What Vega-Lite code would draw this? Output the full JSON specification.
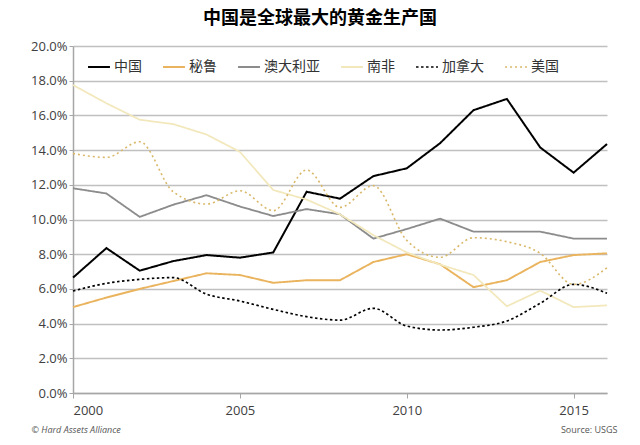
{
  "$schema": "https://vega.github.io/schema/vega-lite/v6.json",
  "width": 534,
  "height": 347,
  "autosize": {"type": "none"},
  "padding": {"left": 73, "top": 46, "right": 33, "bottom": 52},
  "background": "white",
  "config": {"view": {"stroke": null}},
  "title": {"text": "中国是全球最大的黄金生产国", "font": "Noto Sans CJK SC", "fontSize": 18, "fontWeight": "bold", "color": "#000000", "anchor": "middle", "dx": -20, "offset": 12},
  "datasets": {
    "gold": [
      {"year": 2000, "country": "中国", "share": 0.0665}, {"year": 2001, "country": "中国", "share": 0.0835}, {"year": 2002, "country": "中国", "share": 0.0705}, {"year": 2003, "country": "中国", "share": 0.076}, {"year": 2004, "country": "中国", "share": 0.0795}, {"year": 2005, "country": "中国", "share": 0.078}, {"year": 2006, "country": "中国", "share": 0.081}, {"year": 2007, "country": "中国", "share": 0.116}, {"year": 2008, "country": "中国", "share": 0.112}, {"year": 2009, "country": "中国", "share": 0.125}, {"year": 2010, "country": "中国", "share": 0.1295}, {"year": 2011, "country": "中国", "share": 0.144}, {"year": 2012, "country": "中国", "share": 0.163}, {"year": 2013, "country": "中国", "share": 0.1695}, {"year": 2014, "country": "中国", "share": 0.1415}, {"year": 2015, "country": "中国", "share": 0.127}, {"year": 2016, "country": "中国", "share": 0.1435},
      {"year": 2000, "country": "秘鲁", "share": 0.0495}, {"year": 2001, "country": "秘鲁", "share": 0.055}, {"year": 2002, "country": "秘鲁", "share": 0.06}, {"year": 2003, "country": "秘鲁", "share": 0.0645}, {"year": 2004, "country": "秘鲁", "share": 0.069}, {"year": 2005, "country": "秘鲁", "share": 0.068}, {"year": 2006, "country": "秘鲁", "share": 0.0635}, {"year": 2007, "country": "秘鲁", "share": 0.065}, {"year": 2008, "country": "秘鲁", "share": 0.065}, {"year": 2009, "country": "秘鲁", "share": 0.0755}, {"year": 2010, "country": "秘鲁", "share": 0.08}, {"year": 2011, "country": "秘鲁", "share": 0.0742}, {"year": 2012, "country": "秘鲁", "share": 0.061}, {"year": 2013, "country": "秘鲁", "share": 0.065}, {"year": 2014, "country": "秘鲁", "share": 0.0755}, {"year": 2015, "country": "秘鲁", "share": 0.0795}, {"year": 2016, "country": "秘鲁", "share": 0.0805},
      {"year": 2000, "country": "澳大利亚", "share": 0.118}, {"year": 2001, "country": "澳大利亚", "share": 0.115}, {"year": 2002, "country": "澳大利亚", "share": 0.1015}, {"year": 2003, "country": "澳大利亚", "share": 0.1085}, {"year": 2004, "country": "澳大利亚", "share": 0.114}, {"year": 2005, "country": "澳大利亚", "share": 0.1075}, {"year": 2006, "country": "澳大利亚", "share": 0.102}, {"year": 2007, "country": "澳大利亚", "share": 0.106}, {"year": 2008, "country": "澳大利亚", "share": 0.103}, {"year": 2009, "country": "澳大利亚", "share": 0.089}, {"year": 2010, "country": "澳大利亚", "share": 0.0945}, {"year": 2011, "country": "澳大利亚", "share": 0.1005}, {"year": 2012, "country": "澳大利亚", "share": 0.093}, {"year": 2013, "country": "澳大利亚", "share": 0.093}, {"year": 2014, "country": "澳大利亚", "share": 0.093}, {"year": 2015, "country": "澳大利亚", "share": 0.089}, {"year": 2016, "country": "澳大利亚", "share": 0.089},
      {"year": 2000, "country": "南非", "share": 0.1775}, {"year": 2001, "country": "南非", "share": 0.167}, {"year": 2002, "country": "南非", "share": 0.1575}, {"year": 2003, "country": "南非", "share": 0.155}, {"year": 2004, "country": "南非", "share": 0.149}, {"year": 2005, "country": "南非", "share": 0.139}, {"year": 2006, "country": "南非", "share": 0.117}, {"year": 2007, "country": "南非", "share": 0.1115}, {"year": 2008, "country": "南非", "share": 0.103}, {"year": 2009, "country": "南非", "share": 0.091}, {"year": 2010, "country": "南非", "share": 0.081}, {"year": 2011, "country": "南非", "share": 0.074}, {"year": 2012, "country": "南非", "share": 0.068}, {"year": 2013, "country": "南非", "share": 0.05}, {"year": 2014, "country": "南非", "share": 0.059}, {"year": 2015, "country": "南非", "share": 0.0495}, {"year": 2016, "country": "南非", "share": 0.0505},
      {"year": 2000, "country": "加拿大", "share": 0.0588}, {"year": 2001, "country": "加拿大", "share": 0.0632}, {"year": 2002, "country": "加拿大", "share": 0.0655}, {"year": 2003, "country": "加拿大", "share": 0.0665}, {"year": 2004, "country": "加拿大", "share": 0.057}, {"year": 2005, "country": "加拿大", "share": 0.053}, {"year": 2006, "country": "加拿大", "share": 0.0482}, {"year": 2007, "country": "加拿大", "share": 0.044}, {"year": 2008, "country": "加拿大", "share": 0.042}, {"year": 2009, "country": "加拿大", "share": 0.0488}, {"year": 2010, "country": "加拿大", "share": 0.0386}, {"year": 2011, "country": "加拿大", "share": 0.0363}, {"year": 2012, "country": "加拿大", "share": 0.0379}, {"year": 2013, "country": "加拿大", "share": 0.0415}, {"year": 2014, "country": "加拿大", "share": 0.0517}, {"year": 2015, "country": "加拿大", "share": 0.0626}, {"year": 2016, "country": "加拿大", "share": 0.0575},
      {"year": 2000, "country": "美国", "share": 0.138}, {"year": 2001, "country": "美国", "share": 0.1358}, {"year": 2002, "country": "美国", "share": 0.1448}, {"year": 2003, "country": "美国", "share": 0.116}, {"year": 2004, "country": "美国", "share": 0.1089}, {"year": 2005, "country": "美国", "share": 0.1166}, {"year": 2006, "country": "美国", "share": 0.1051}, {"year": 2007, "country": "美国", "share": 0.1285}, {"year": 2008, "country": "美国", "share": 0.107}, {"year": 2009, "country": "美国", "share": 0.1195}, {"year": 2010, "country": "美国", "share": 0.088}, {"year": 2011, "country": "美国", "share": 0.0782}, {"year": 2012, "country": "美国", "share": 0.0895}, {"year": 2013, "country": "美国", "share": 0.0872}, {"year": 2014, "country": "美国", "share": 0.0805}, {"year": 2015, "country": "美国", "share": 0.0626}, {"year": 2016, "country": "美国", "share": 0.0722}
    ]
  },
  "data": {"name": "gold"},
  "encoding": {
    "x": {
      "field": "year", "type": "quantitative",
      "scale": {"domain": [2000, 2016], "nice": false, "zero": false},
      "axis": {
        "values": [2000, 2005, 2010, 2015], "format": "d", "grid": false,
        "labelFont": "Open Sans", "labelFontSize": 13, "labelColor": "#404040", "labelPadding": 6,
        "domainColor": "#a6a6a6", "domainWidth": 1.5, "tickColor": "#a6a6a6", "tickSize": 5,
        "title": "Source: USGS", "titleX": 544, "titleY": 36, "titleAlign": "right", "titleBaseline": "middle", "titleAnchor": null,
        "titleFont": "Open Sans", "titleFontSize": 9, "titleFontWeight": "normal", "titleColor": "#555555"
      }
    },
    "y": {
      "field": "share", "type": "quantitative",
      "scale": {"domain": [0, 0.2], "nice": false},
      "axis": {
        "values": [0, 0.02, 0.04, 0.06, 0.08, 0.1, 0.12, 0.14, 0.16, 0.18, 0.2], "format": ".1%",
        "grid": true, "gridColor": "#c0c0c0", "gridWidth": 1.5,
        "labelFont": "Open Sans", "labelFontSize": 13, "labelColor": "#404040", "labelPadding": 2,
        "domainColor": "#a6a6a6", "domainWidth": 1.5, "tickColor": "#a6a6a6", "tickSize": 4,
        "title": "© Hard Assets Alliance", "titleAngle": 0, "titleX": -42, "titleY": 383, "titleAlign": "left", "titleBaseline": "middle", "titleAnchor": null,
        "titleFont": "Open Sans", "titleFontSize": 9, "titleFontStyle": "italic", "titleFontWeight": "normal", "titleColor": "#555555"
      }
    },
    "color": {
      "field": "country", "type": "nominal",
      "scale": {"domain": ["中国", "秘鲁", "澳大利亚", "南非", "加拿大", "美国"], "range": ["#000000", "#EAB45E", "#8c8c8c", "#F2E8BC", "#000000", "#D9B86A"]},
      "legend": {"orient": "none", "legendX": 14, "legendY": 9, "direction": "horizontal", "columns": 6, "title": null, "symbolType": "stroke", "symbolSize": 480, "symbolStrokeWidth": 2, "labelFont": "Noto Sans CJK SC", "labelFontSize": 14, "labelColor": "#333333", "labelOffset": 3, "columnPadding": 17, "labelLimit": 200}
    },
    "strokeDash": {
      "field": "country", "type": "nominal",
      "scale": {"domain": ["中国", "秘鲁", "澳大利亚", "南非", "加拿大", "美国"], "range": [[1, 0], [1, 0], [1, 0], [1, 0], [2.5, 2.5], [2, 3]]},
      "legend": {"orient": "none", "legendX": 14, "legendY": 9, "direction": "horizontal", "columns": 6, "title": null, "symbolType": "stroke", "symbolSize": 480, "symbolStrokeWidth": 2, "labelFont": "Noto Sans CJK SC", "labelFontSize": 14, "labelColor": "#333333", "labelOffset": 3, "columnPadding": 17, "labelLimit": 200}
    },
    "strokeWidth": {
      "field": "country", "type": "ordinal",
      "scale": {"domain": ["中国", "秘鲁", "澳大利亚", "南非", "加拿大", "美国"], "range": [2, 1.6, 1.6, 1.6, 2.6, 2]},
      "legend": null
    }
  },
  "layer": [
    {
      "transform": [{"filter": {"field": "country", "oneOf": ["中国", "秘鲁", "澳大利亚", "南非"]}}],
      "mark": {"type": "line", "interpolate": "linear"}
    },
    {
      "transform": [{"filter": {"field": "country", "oneOf": ["加拿大", "美国"]}}],
      "mark": {"type": "line", "interpolate": "monotone"}
    }
  ]
}
